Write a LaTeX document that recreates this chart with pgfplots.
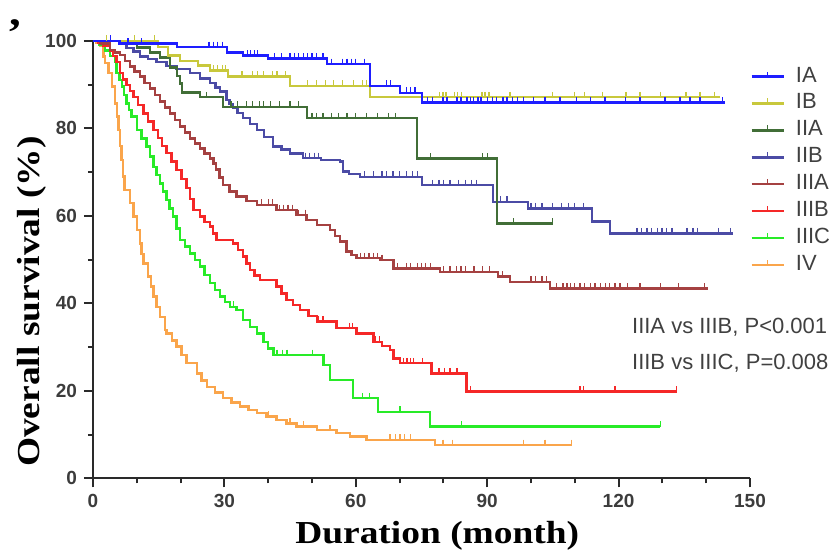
\documentclass[border=0pt]{standalone}
\usepackage{pgfplots}
\pgfplotsset{compat=1.18}
\usepackage{fontspec}
\setmainfont{Liberation Sans}
\newfontfamily\labfont[FakeStretch=1.17]{Liberation Serif}
\definecolor{cIA}{HTML}{1E1EFF}
\definecolor{cIB}{HTML}{C8C83C}
\definecolor{cIIA}{HTML}{416E37}
\definecolor{cIIB}{HTML}{4B4BA5}
\definecolor{cIIIA}{HTML}{A54141}
\definecolor{cIIIB}{HTML}{F52828}
\definecolor{cIIIC}{HTML}{28EB28}
\definecolor{cIV}{HTML}{FAA54B}
\definecolor{axcol}{HTML}{2A2A2A}
\definecolor{tickcol}{HTML}{3C3C3C}
\definecolor{legcol}{HTML}{404040}
\pgfplotsset{
  km/.style={const plot, line width=1.25pt, forget plot},
  cens/.style={only marks, mark=|, mark size=1.4pt, mark options={line width=0.6pt, yshift=1.3pt}, forget plot},
}
\begin{document}
\begin{tikzpicture}
\path[use as bounding box] (-46.5pt,-36.85pt) rectangle (372pt,239.15pt);
\begin{axis}[
  scale only axis, width=328.5pt, height=218.75pt,
  xmin=0, xmax=150, ymin=0, ymax=100,
  axis x line*=bottom, axis y line*=left,
  axis line style={line width=1pt, color=axcol},
  xtick={0,30,...,150}, minor xtick={10,20,40,50,70,80,100,110,130,140},
  ytick={0,20,...,100}, minor ytick={10,30,50,70,90},
  tick align=outside, major tick length=4.5pt, minor tick length=2.5pt,
  every tick/.style={line width=1pt, color=axcol},
  /pgf/number format/assume math mode=true,
  tick label style={font=\bfseries\fontsize{9.5}{11}\selectfont, text=tickcol},
  clip=false,
  xlabel={Duration (month)},
  xlabel style={at={(axis description cs:0.524,-0.148)}, anchor=base, font=\labfont\bfseries\fontsize{16}{18}\selectfont},
  ylabel={Overall survival (\%)},
  ylabel style={at={(axis description cs:-0.0807,0.404)}, anchor=base, rotate=0, font=\labfont\bfseries\fontsize{16}{18}\selectfont},
  legend style={at={(axis cs:150,70.3)}, anchor=west, draw=none, fill=none, inner sep=0pt,
    row sep=2.95pt, column sep=5.5pt, font=\fontsize{11}{13}\selectfont, text=legcol,
    nodes={inner sep=0pt, text height=8pt, text depth=2.5pt}},
  legend cell align=left,
  legend image code/.code={\draw[#1] (0pt,0pt) -- (16pt,0pt); \draw[#1,line width=0.6pt] (8pt,0pt) -- (8pt,2.5pt);},
]
\addlegendimage{cIA, line width=1.25pt}\addlegendentry{IA}
\addlegendimage{cIB, line width=1.25pt}\addlegendentry{IB}
\addlegendimage{cIIA, line width=1.25pt}\addlegendentry{IIA}
\addlegendimage{cIIB, line width=1.25pt}\addlegendentry{IIB}
\addlegendimage{cIIIA, line width=1.25pt}\addlegendentry{IIIA}
\addlegendimage{cIIIB, line width=1.25pt}\addlegendentry{IIIB}
\addlegendimage{cIIIC, line width=1.25pt}\addlegendentry{IIIC}
\addlegendimage{cIV, line width=1.25pt}\addlegendentry{IV}

% IV
\addplot[km, cIV] coordinates {(0,100)(0.8,99.5)(1.6,98.9)(2.4,96.4)(2.7,94.9)(3.5,92.6)(4.3,89.5)(5,85.7)(5.5,82.7)(5.8,79.6)(6.2,76)(6.5,72.8)(6.9,69)(7.2,65.9)(8.4,62.9)(9.2,59.8)(10,56.8)(10.7,53.7)(11.1,51.3)(11.5,49.1)(12.6,46.1)(13.2,43.8)(13.8,41.5)(14.5,39.2)(15.3,36.9)(16.4,33.9)(16.8,33.1)(18,31.5)(19.1,30.1)(20.2,28.2)(21.4,26.3)(23.7,24)(24.8,22.4)(26,20.9)(27.8,19.6)(29.7,18.3)(31.6,17.3)(33.6,16.4)(35.5,15.6)(37.4,14.9)(39.6,14.1)(41.9,13.3)(44.2,12.5)(46.5,11.8)(51.1,11)(55.6,10.3)(58.7,9.5)(62.5,8.8)(78.1,7.6)(109.3,7.6)};
\addplot[cens, cIV] coordinates {(40,14.1)(45,12.5)(48,11.8)(54.1,11)(67.8,8.8)(69,8.8)(70.1,8.8)(71.2,8.8)(72.4,8.8)(79.9,7.6)(82,7.6)(98.2,7.6)(103.2,7.6)(109.3,7.6)};
% IIIC
\addplot[km, cIIIC] coordinates {(0,100)(1.5,99)(2.7,97.8)(3.9,96.5)(5,95.2)(5.4,92.6)(6,91)(6.6,89.5)(7.1,87.6)(7.7,85.7)(8.2,84.2)(8.8,82.7)(10,79.6)(11.1,77.7)(12.2,75.8)(13,73.5)(13.8,71.2)(14.5,69.3)(15.3,67.4)(16,65.5)(16.8,63.6)(17.5,61.7)(18.3,59.8)(19.1,57.1)(19.9,54.5)(21,53)(22.1,51.4)(23.3,49.9)(24.4,48.4)(25.5,46.5)(26.7,44.6)(27.8,43)(29,41.5)(30.1,40.3)(31.3,39.2)(32.8,38.5)(34.3,36.2)(35.8,34.6)(37.4,33.1)(38.9,31.2)(40,29.7)(41.2,28.2)(51.8,28.2)(52.6,25.9)(54.1,22.5)(59.4,18.3)(65.1,15.2)(76.9,11.8)(129.5,11.8)};
\addplot[cens, cIIIC] coordinates {(32,39.2)(42,28.2)(43.2,28.2)(44.3,28.2)(50.2,28.2)(61.6,18.3)(63.2,18.3)(70.1,15.2)(84.2,11.8)(129.5,11.8)};
% IIIB
\addplot[km, cIIIB] coordinates {(0,100)(1.2,99.5)(2.4,98.9)(3.9,97.8)(4.6,96.5)(5.4,95.2)(6.2,92.6)(6.9,91.2)(7.7,89.9)(8.4,88.5)(9.2,87.2)(10.3,85.3)(11.5,83.4)(12.6,81.5)(13.8,79.6)(14.8,77.8)(15.8,76)(16.8,74.3)(17.9,72.4)(19.1,70.5)(20.2,68.4)(21.4,66.3)(22.1,63.8)(22.9,61.3)(24.4,59.8)(25.5,58.6)(26.7,57.5)(27.4,56)(28.2,54.5)(32,53.7)(33.1,52.2)(34.3,50.7)(35,49.1)(35.8,47.6)(36.9,46.4)(38.1,45.3)(41.9,43.8)(43,42.2)(44.2,40.7)(45.7,39.6)(47.3,38.5)(49.2,37.1)(51.1,35.8)(55.6,34.3)(60.2,33.1)(64,31.2)(66,30.2)(67.8,29.3)(68.6,27.4)(70.1,26.3)(77.3,24)(85.3,19.8)(133.3,19.8)};
\addplot[cens, cIIIB] coordinates {(51.5,35.8)(52.5,35.8)(58.5,34.3)(59.3,34.3)(64.5,31.2)(65.5,31.2)(70.8,26.3)(71.7,26.3)(72.4,26.3)(73.1,26.3)(75.3,26.3)(77.6,24)(79,24)(80.2,24)(81.5,24)(83.1,24)(86.1,19.8)(111.2,19.8)(111.9,19.8)(119.2,19.8)(133.3,19.8)};
% IIIA
\addplot[km, cIIIA] coordinates {(0,100)(1.6,99.4)(3.9,97.9)(5,97.3)(6.2,96.8)(7.3,95.4)(8.4,94.1)(9.5,93)(10.7,91.8)(11.8,90.4)(13,89.1)(14.1,87.6)(15.3,86.1)(16.4,84.8)(17.6,83.4)(18.7,81.9)(19.9,80.4)(21,79)(22.1,77.7)(23.3,76.5)(24.4,75.4)(25.5,74.2)(26.7,73.1)(27.5,72)(28.1,70.6)(28.9,68.8)(29.7,67)(31.2,65.6)(32.8,64.4)(35,63.4)(37.4,62.5)(41.9,61.3)(46.5,60.2)(48.8,59)(51.1,57.9)(54.1,56.7)(55.2,55.4)(56.4,54.1)(57.9,51.8)(59,51)(60.2,50.3)(65.5,49.9)(68.6,48)(79.2,47.2)(92.5,46.1)(95.2,44.9)(104.3,43.4)(140.4,43.4)};
\addplot[cens, cIIIA] coordinates {(38.5,62.5)(40,62.5)(41,62.5)(42.5,61.3)(43.5,61.3)(44.5,61.3)(45.5,61.3)(47,60.2)(48.5,60.2)(61,50.3)(62,50.3)(63,50.3)(64,50.3)(65,50.3)(66,49.9)(69.5,48)(71.5,48)(72.5,48)(74,48)(75,48)(76,48)(77,48)(80,47.2)(81.5,47.2)(83,47.2)(84,47.2)(85,47.2)(87,47.2)(89,47.2)(90.5,47.2)(93.5,46.1)(100,44.9)(101,44.9)(102.5,44.9)(103.5,44.9)(105.9,43.4)(107.3,43.4)(108.2,43.4)(109.1,43.4)(110,43.4)(111.2,43.4)(112.3,43.4)(113.5,43.4)(114.6,43.4)(115.8,43.4)(117.1,43.4)(118,43.4)(119.2,43.4)(120.3,43.4)(122.1,43.4)(124.9,43.4)(129.5,43.4)(133.6,43.4)(139.7,43.4)};
% IIB
\addplot[km, cIIB] coordinates {(0,100)(6.6,99.4)(7.7,98.3)(9.2,97.5)(10.7,96.4)(12.6,95.8)(14.5,95.2)(16.8,94.2)(19.1,93.5)(22.1,92.6)(24.4,91.4)(26.7,90.3)(28,89.3)(29,88.4)(30.5,86.5)(31.2,85.5)(32,84.6)(33,83.5)(34.3,82.3)(35.8,81)(37.4,79.6)(39,78)(41.1,75.8)(43,75.2)(45,74.2)(47.9,73.2)(52,72.8)(56.4,72.4)(57.1,70.1)(58.5,69.5)(61,68.9)(75.1,67)(91.3,63.2)(99.3,61.7)(113.9,58.7)(118,56)(146.1,56)};
\addplot[cens, cIIB] coordinates {(48.5,73.2)(49.5,73.2)(50.5,73.2)(51.5,73.2)(62,68.9)(64,68.9)(66,68.9)(67,68.9)(68.5,68.9)(70,68.9)(71.5,68.9)(73,68.9)(74,68.9)(77.6,67)(79,67)(80,67)(81.5,67)(83.5,67)(85,67)(86.5,67)(87.5,67)(93,63.2)(94.5,63.2)(100,61.7)(101,61.7)(102.5,61.7)(105,61.7)(107,61.7)(108.5,61.7)(110,61.7)(112,61.7)(124.2,56)(125.3,56)(126.5,56)(127.6,56)(128.8,56)(129.9,56)(131,56)(132.2,56)(135.6,56)(137,56)(138,56)(142.8,56)(145.5,56)};
% IIA
\addplot[km, cIIA] coordinates {(0,100)(10,98.5)(13,97.3)(15.3,96.2)(17.6,93.9)(19.2,92)(19.9,90.2)(20.3,88.2)(24.4,87.1)(29.7,84.9)(48.9,82.3)(74,73.1)(92.2,58.2)(105,58.2)};
\addplot[cens, cIIA] coordinates {(26,87.1)(31.5,84.9)(33,84.9)(35,84.9)(36.5,84.9)(38,84.9)(39,84.9)(40.5,84.9)(42.5,84.9)(45,84.9)(47,84.9)(50,82.3)(51,82.3)(52.5,82.3)(54.5,82.3)(56,82.3)(58,82.3)(60,82.3)(62.5,82.3)(65,82.3)(67.5,82.3)(69,82.3)(77,73.1)(89,73.1)(90,73.1)(96,58.2)(105,58.2)};
% IB
\addplot[km, cIB] coordinates {(0,100)(14.8,98.6)(17.1,96.6)(19.9,95.4)(24,94.3)(26.7,93.2)(30.8,91.8)(45,89.7)(63.2,87.1)(143.2,87.1)};
\addplot[cens, cIB] coordinates {(3,100)(9.5,100)(14,100)(27.5,93.2)(28.5,93.2)(29.5,93.2)(30.3,93.2)(34,91.8)(36.5,91.8)(37.5,91.8)(39,91.8)(41,91.8)(42,91.8)(44,91.8)(48.9,89.7)(51,89.7)(53,89.7)(55,89.7)(57,89.7)(59.5,89.7)(61.5,89.7)(62.5,89.7)(79.2,87.1)(79.9,87.1)(80.6,87.1)(82.6,87.1)(83.3,87.1)(84.2,87.1)(88.8,87.1)(89.5,87.1)(90.4,87.1)(95.2,87.1)(105,87.1)(110,87.1)(112.3,87.1)(116.4,87.1)(121.7,87.1)(124.9,87.1)(129.5,87.1)(135.4,87.1)(138.6,87.1)(141.9,87.1)};
% IA
\addplot[km, cIA] coordinates {(0,100)(6,99.4)(19.2,98.6)(30.6,97.3)(34.2,96.6)(40,95.9)(53.4,94.7)(63.2,89.7)(70.1,88.1)(75.1,85.9)(144.3,85.9)};
\addplot[cens, cIA] coordinates {(4,100)(8,99.4)(11,99.4)(26.5,98.6)(27.5,98.6)(28.5,98.6)(29.5,98.6)(35.2,96.6)(36,96.6)(36.8,96.6)(37.6,96.6)(41.5,95.9)(43,95.9)(45,95.9)(46,95.9)(47,95.9)(48,95.9)(49,95.9)(50,95.9)(51,95.9)(52.5,95.9)(54.5,94.7)(57,94.7)(58,94.7)(59,94.7)(60,94.7)(62,94.7)(67,89.7)(68,89.7)(71.5,88.1)(72.5,88.1)(73.5,88.1)(76.3,85.9)(77.6,85.9)(79.9,85.9)(80.8,85.9)(83.1,85.9)(84,85.9)(85.4,85.9)(86.1,85.9)(86.8,85.9)(87.9,85.9)(88.6,85.9)(90,85.9)(91.3,85.9)(92.2,85.9)(93.6,85.9)(94.5,85.9)(95.7,85.9)(97,85.9)(98.2,85.9)(100.5,85.9)(103.2,85.9)(106.6,85.9)(110.3,85.9)(113.5,85.9)(116.9,85.9)(121.5,85.9)(124.9,85.9)(130.6,85.9)(134,85.9)(136.3,85.9)(138.6,85.9)(143.8,85.9)};

\node[anchor=west, font=\fontsize{11}{13}\selectfont, text=legcol, inner sep=0pt] at (rel axis cs:0.820,0.346) {IIIA vs IIIB, P<0.001};
\node[anchor=west, font=\fontsize{11}{13}\selectfont, text=legcol, inner sep=0pt] at (rel axis cs:0.820,0.262) {IIIB vs IIIC, P=0.008};
\end{axis}
\node[font=\labfont\bfseries\fontsize{20}{20}\selectfont, anchor=base, inner sep=0pt] at (-39pt,226.5pt) {,};
\end{tikzpicture}
\end{document}
